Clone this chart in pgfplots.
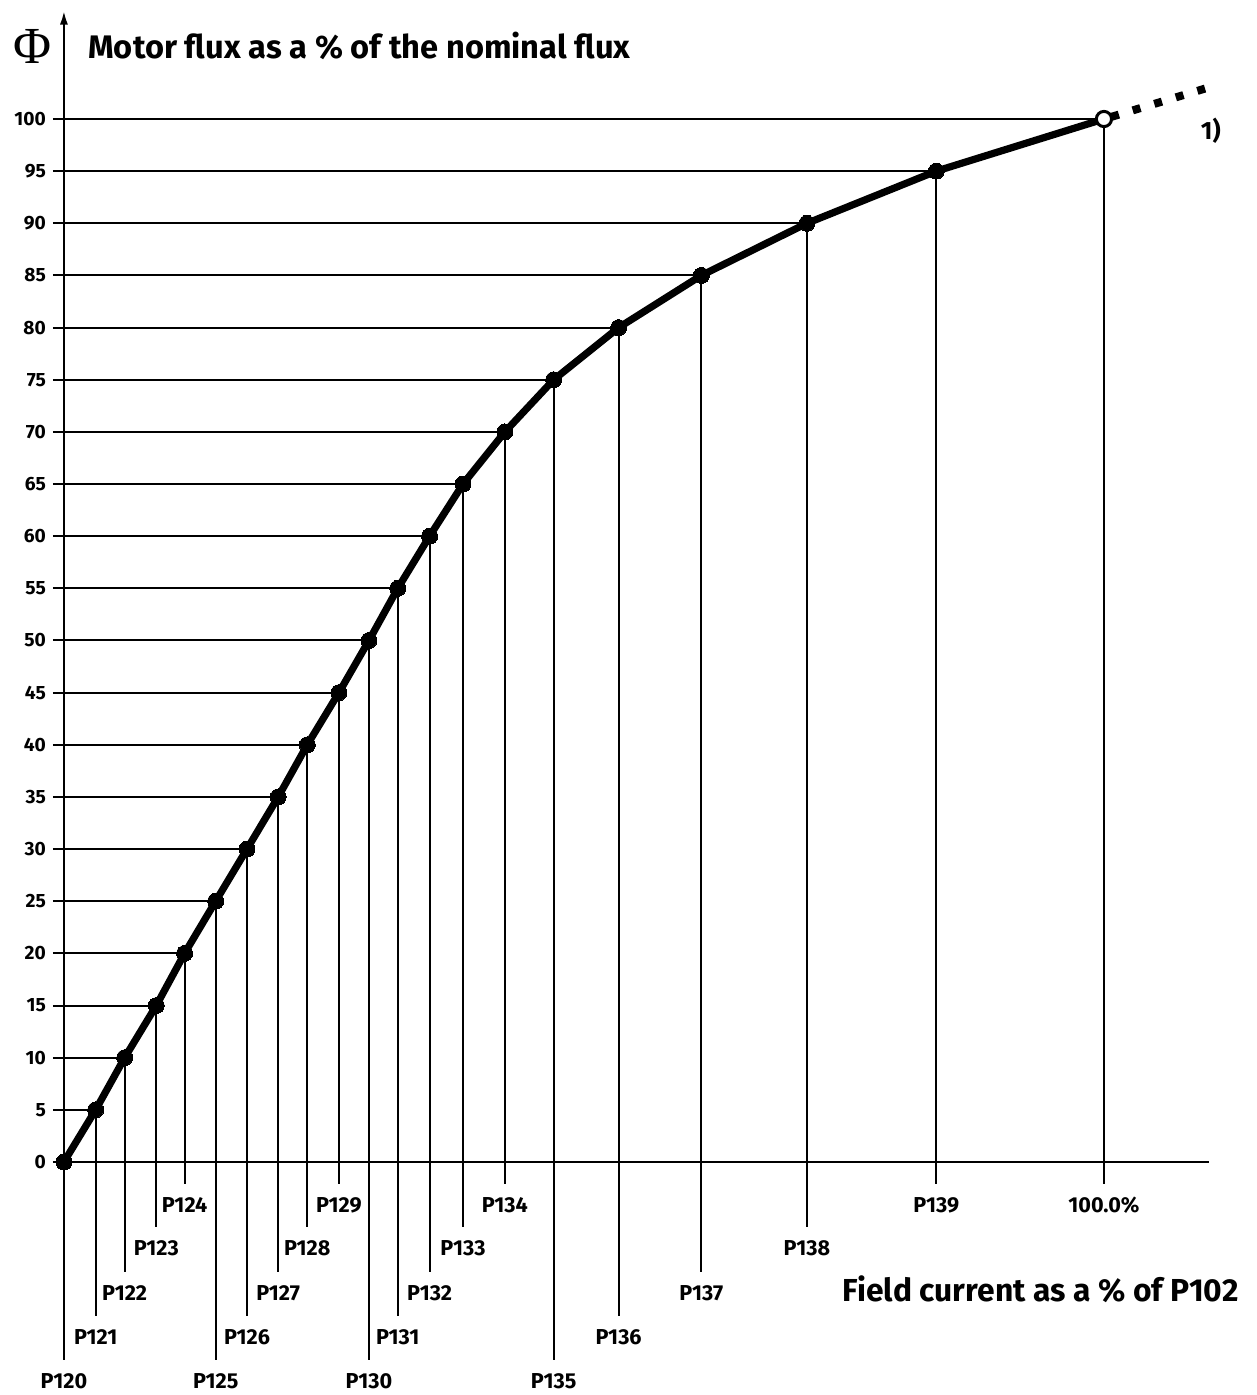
\documentclass[border=0pt]{standalone}
\usepackage{fontspec}
\setmainfont{Fira Sans}
\newfontfamily\phifont{Liberation Serif}
\usepackage{pgfplots}
\usepackage{pgfplotstable}
\usetikzlibrary{arrows.meta}
\pgfplotsset{compat=1.18}

\pgfplotstableread{
x y lo lbl
0 0 -18.98 P120
3.05 5 -14.77 P121
5.84 10 -10.55 P122
8.88 15 -6.23 P123
11.6 20 -2.11 P124
14.59 25 -18.98 P125
17.6 30 -14.77 P126
20.6 35 -10.55 P127
23.4 40 -6.23 P128
26.44 45 -2.11 P129
29.33 50 -18.98 P130
32.1 55 -14.77 P131
35.16 60 -10.55 P132
38.37 65 -6.23 P133
42.4 70 -2.11 P134
47.09 75 -18.98 P135
53.34 80 -14.77 P136
61.29 85 -10.55 P137
71.44 90 -6.23 P138
83.88 95 -2.11 P139
100 100 -2.11 100.0\%
}\data

\begin{document}
\begin{tikzpicture}
\begin{axis}[
  x=5.2pt, y=5.215pt,
  xmin=0, xmax=110.1, ymin=0, ymax=110.4,
  axis x line=bottom, axis y line=left,
  x axis line style={-, line width=1.2pt},
  y axis line style={-{Latex[length=7pt,width=4pt]}, line width=1.2pt},
  xtick=\empty,
  ytick={0,5,...,100},
  tick align=outside,
  major tick length=5.5pt,
  tick style={line width=1pt, black},
  yticklabel style={font=\bfseries\fontsize{9.6}{10}\selectfont, /pgf/number format/assume math mode=true},
  clip=false,
]
% grid lines (horizontal to axis, vertical down to labels)
\addplot[draw=none, mark=none,
  error bars/.cd, x dir=minus, x explicit, y dir=minus, y explicit,
  error mark=none, error bar style={line width=1pt, black}]
  table[x=x, y=y, x error expr=\thisrow{x}, y error expr=\thisrow{y}-\thisrow{lo}] {\data};
% labels
\addplot[draw=none, mark=none, nodes near coords, point meta=explicit symbolic,
  every node near coord/.append style={anchor=center, yshift=-10.5pt,
    font=\bfseries\fontsize{10.8}{11}\selectfont, text=black}]
  table[x=x, y=lo, meta=lbl] {\data};
% curve
\addplot[black, line width=3.6pt, line join=round, mark=*, mark size=4pt,
  mark indices={1,...,20}, mark options={line width=0pt, fill=black}]
  table[x=x, y=y] {\data};
% dotted continuation
\addplot[black, line width=4pt, dash pattern=on 4pt off 7.25pt, line cap=butt]
  coordinates {(100.7,100.2) (109.9,102.97)};
% hollow end point
\addplot[only marks, mark=*, mark size=3.8pt,
  mark options={fill=white, draw=black, line width=1.5pt}]
  coordinates {(100,100)};

\node at (axis cs:-3.07,107.0) {\phifont\fontsize{26}{26}\selectfont Φ};
\node[anchor=west, font=\bfseries\fontsize{16.3}{18}\selectfont, inner sep=0pt]
  at (axis cs:2.31,107.0) {Motor flux as a \% of the nominal flux};
\node[anchor=east, font=\bfseries\fontsize{15.9}{17}\selectfont, inner sep=0pt]
  at (axis cs:112.97,-12.2) {Field current as a \% of P102};
\node[font=\bfseries\fontsize{12.5}{13}\selectfont] at (axis cs:110.28,98.85) {1)};

\coordinate (bbtl) at (axis cs:-6.148,111.41);
\coordinate (bbbr) at (axis cs:114.70,-22.34);
\end{axis}
\pgfresetboundingbox
\useasboundingbox (bbtl) rectangle (bbbr);
\end{tikzpicture}
\end{document}
